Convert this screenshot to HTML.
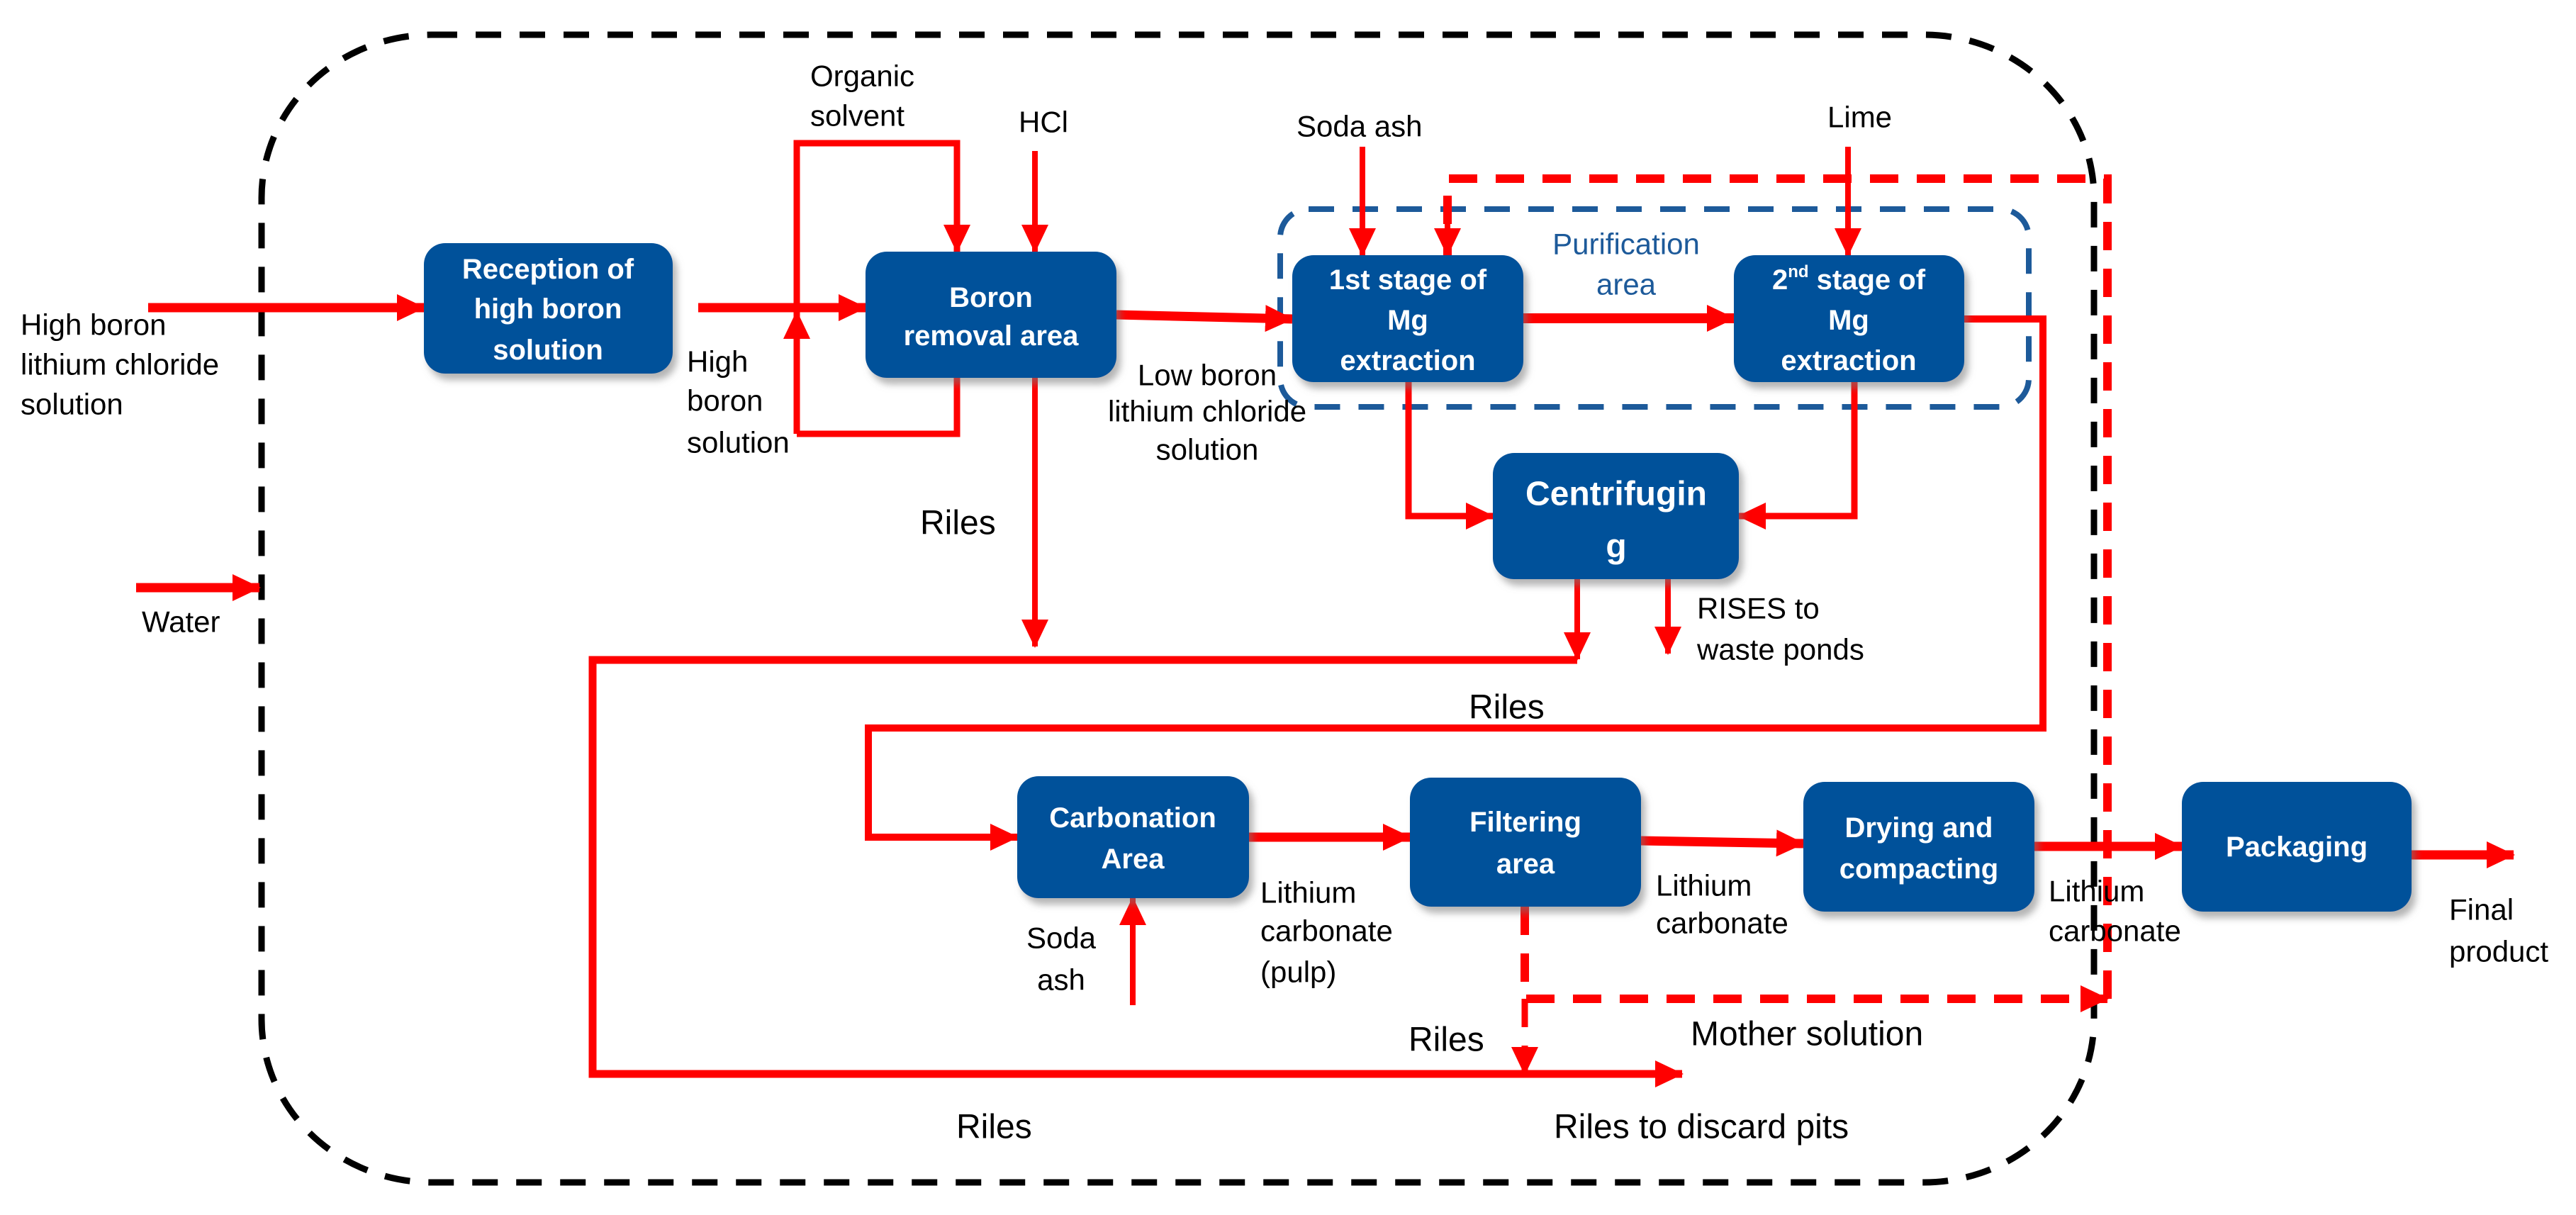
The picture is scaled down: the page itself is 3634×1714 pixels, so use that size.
<!DOCTYPE html>
<html><head><meta charset="utf-8"><style>
html,body{margin:0;padding:0;background:#fff;}
svg{display:block;}
text{font-family:"Liberation Sans",sans-serif;}
.lb{font-size:42px;fill:#000;}
.lg{font-size:48px;fill:#000;}
.bx{font-size:40px;font-weight:bold;fill:#fff;text-anchor:middle;}
</style></head><body>
<svg width="3634" height="1714" viewBox="0 0 3634 1714" xmlns="http://www.w3.org/2000/svg">
<defs>
<marker id="ah" markerUnits="userSpaceOnUse" markerWidth="40" markerHeight="38" refX="38" refY="19" orient="auto">
<path d="M0,0 L40,19 L0,38 z" fill="#ff0000"/>
</marker>
<filter id="sh" x="-10%" y="-10%" width="130%" height="130%">
<feDropShadow dx="6" dy="9" stdDeviation="5" flood-color="#777" flood-opacity="0.55"/>
</filter>
</defs>

<!-- black dashed boundary -->
<rect x="369" y="49" width="2585" height="1619" rx="240" ry="230" fill="none" stroke="#000" stroke-width="9" stroke-dasharray="36 26"/>

<!-- purification dashed -->
<rect x="1806" y="295" width="1056" height="279" rx="40" ry="40" fill="none" stroke="#1d5a9a" stroke-width="8" stroke-dasharray="36 26"/>
<text x="2294" y="344" font-size="42" fill="#1d5a9a" text-anchor="middle" dominant-baseline="central">Purification</text>
<text x="2294" y="401" font-size="42" fill="#1d5a9a" text-anchor="middle" dominant-baseline="central">area</text>

<g fill="none" stroke="#ff0000" stroke-linejoin="miter">
<!-- inputs -->
<line x1="209" y1="434" x2="598" y2="434" stroke-width="13" marker-end="url(#ah)"/>
<line x1="985" y1="434" x2="1221" y2="434" stroke-width="13" marker-end="url(#ah)"/>
<line x1="192" y1="829" x2="366" y2="829" stroke-width="13" marker-end="url(#ah)"/>
<!-- organic solvent loop -->
<polyline points="1124,612 1124,202 1350,202 1350,355" stroke-width="9" marker-end="url(#ah)"/>
<line x1="1124" y1="612" x2="1124" y2="440" stroke-width="9" marker-end="url(#ah)"/>
<polyline points="1124,612 1350,612 1350,533" stroke-width="9"/>
<!-- HCl -->
<line x1="1460" y1="213" x2="1460" y2="355" stroke-width="8" marker-end="url(#ah)"/>
<!-- boron -> 1st -->
<line x1="1575" y1="444" x2="1823" y2="450" stroke-width="13" marker-end="url(#ah)"/>
<!-- boron riles down -->
<line x1="1460" y1="533" x2="1460" y2="912" stroke-width="8" marker-end="url(#ah)"/>
<!-- soda ash, lime -->
<line x1="1922" y1="207" x2="1922" y2="360" stroke-width="8" marker-end="url(#ah)"/>
<line x1="2607" y1="207" x2="2607" y2="360" stroke-width="8" marker-end="url(#ah)"/>
<!-- 1st -> 2nd -->
<line x1="2149" y1="449" x2="2446" y2="449" stroke-width="14" marker-end="url(#ah)"/>
<!-- to centrifuging -->
<polyline points="1987,539 1987,728 2106,728" stroke-width="9" marker-end="url(#ah)"/>
<polyline points="2616,539 2616,728 2453,728" stroke-width="9" marker-end="url(#ah)"/>
<!-- 2nd right down to carbonation -->
<polyline points="2771,450 2882,450 2882,1027 1225,1027 1225,1181 1435,1181" stroke-width="10" marker-end="url(#ah)"/>
<!-- centrifuging outputs -->
<line x1="2225" y1="817" x2="2225" y2="930" stroke-width="8" marker-end="url(#ah)"/>
<line x1="2353" y1="817" x2="2353" y2="922" stroke-width="8" marker-end="url(#ah)"/>
<!-- riles main line -->
<polyline points="2225,931 836,931 836,1515 2373,1515" stroke-width="11" marker-end="url(#ah)"/>
<!-- carbonation -> filtering -->
<line x1="1762" y1="1181" x2="1989" y2="1181" stroke-width="13" marker-end="url(#ah)"/>
<line x1="1598" y1="1418" x2="1598" y2="1267" stroke-width="8" marker-end="url(#ah)"/>
<line x1="2315" y1="1186" x2="2544" y2="1190" stroke-width="13" marker-end="url(#ah)"/>
<line x1="2870" y1="1194" x2="3078" y2="1194" stroke-width="13" marker-end="url(#ah)"/>
<line x1="3402" y1="1206" x2="3546" y2="1206" stroke-width="13" marker-end="url(#ah)"/>
<!-- mother solution dashed -->
<polyline points="2151,1279 2151,1409 2973,1409" stroke-width="12" stroke-dasharray="40 26" marker-end="url(#ah)"/>
<polyline points="2973,1409 2973,252 2042,252 2042,360" stroke-width="12" stroke-dasharray="40 26"/>
<line x1="2042" y1="300" x2="2042" y2="360" stroke-width="8" marker-end="url(#ah)"/>
<line x1="2151" y1="1409" x2="2151" y2="1515" stroke-width="9" stroke-dasharray="40 26" marker-end="url(#ah)"/>
</g>

<!-- boxes -->
<g fill="#00519a" filter="url(#sh)">
<rect x="598" y="343" width="351" height="184" rx="30"/>
<rect x="1221" y="355" width="354" height="178" rx="30"/>
<rect x="1823" y="360" width="326" height="179" rx="30"/>
<rect x="2446" y="360" width="325" height="179" rx="30"/>
<rect x="2106" y="639" width="347" height="178" rx="30"/>
<rect x="1435" y="1095" width="327" height="172" rx="30"/>
<rect x="1989" y="1097" width="326" height="182" rx="30"/>
<rect x="2544" y="1103" width="326" height="183" rx="30"/>
<rect x="3078" y="1103" width="324" height="183" rx="30"/>
</g>

<g class="bx" dominant-baseline="central">
<text x="773" y="380" dominant-baseline="central">Reception of</text>
<text x="773" y="436" dominant-baseline="central">high boron</text>
<text x="773" y="494" dominant-baseline="central">solution</text>
<text x="1398" y="420" dominant-baseline="central">Boron</text>
<text x="1398" y="474" dominant-baseline="central">removal area</text>
<text x="1986" y="395" dominant-baseline="central">1st stage of</text>
<text x="1986" y="452" dominant-baseline="central">Mg</text>
<text x="1986" y="509" dominant-baseline="central">extraction</text>
<text x="2608" y="395" dominant-baseline="central">2<tspan font-size="24" dy="-12">nd</tspan><tspan dy="12"> stage of</tspan></text>
<text x="2608" y="452" dominant-baseline="central">Mg</text>
<text x="2608" y="509" dominant-baseline="central">extraction</text>
<text x="2280" y="697" font-size="48" dominant-baseline="central">Centrifugin</text>
<text x="2280" y="771" font-size="48" dominant-baseline="central">g</text>
<text x="1598" y="1154" dominant-baseline="central">Carbonation</text>
<text x="1598" y="1212" dominant-baseline="central">Area</text>
<text x="2152" y="1160" dominant-baseline="central">Filtering</text>
<text x="2152" y="1219" dominant-baseline="central">area</text>
<text x="2707" y="1168" dominant-baseline="central">Drying and</text>
<text x="2707" y="1226" dominant-baseline="central">compacting</text>
<text x="3240" y="1195" dominant-baseline="central">Packaging</text>
</g>

<g class="lb">
<text x="29" y="458" dominant-baseline="central">High boron</text>
<text x="29" y="514" dominant-baseline="central">lithium chloride</text>
<text x="29" y="570" dominant-baseline="central">solution</text>
<text x="200" y="877" dominant-baseline="central">Water</text>
<text x="1143" y="107" dominant-baseline="central">Organic</text>
<text x="1143" y="163" dominant-baseline="central">solvent</text>
<text x="1437" y="172" dominant-baseline="central">HCl</text>
<text x="969" y="510" dominant-baseline="central">High</text>
<text x="969" y="565" dominant-baseline="central">boron</text>
<text x="969" y="624" dominant-baseline="central">solution</text>
<text x="1703" y="529" text-anchor="middle" dominant-baseline="central">Low boron</text>
<text x="1703" y="580" text-anchor="middle" dominant-baseline="central">lithium chloride</text>
<text x="1703" y="634" text-anchor="middle" dominant-baseline="central">solution</text>
<text x="1829" y="178" dominant-baseline="central">Soda ash</text>
<text x="2578" y="165" dominant-baseline="central">Lime</text>
<text x="2394" y="858" dominant-baseline="central">RISES to</text>
<text x="2394" y="916" dominant-baseline="central">waste ponds</text>
<text x="1497" y="1323" text-anchor="middle" dominant-baseline="central">Soda</text>
<text x="1497" y="1382" text-anchor="middle" dominant-baseline="central">ash</text>
<text x="1778" y="1259" dominant-baseline="central">Lithium</text>
<text x="1778" y="1313" dominant-baseline="central">carbonate</text>
<text x="1778" y="1371" dominant-baseline="central">(pulp)</text>
<text x="2336" y="1249" dominant-baseline="central">Lithium</text>
<text x="2336" y="1302" dominant-baseline="central">carbonate</text>
<text x="2890" y="1257" dominant-baseline="central">Lithium</text>
<text x="2890" y="1313" dominant-baseline="central">carbonate</text>
<text x="3455" y="1283" dominant-baseline="central">Final</text>
<text x="3455" y="1342" dominant-baseline="central">product</text>
</g>
<g class="lg">
<text x="1298" y="738" dominant-baseline="central">Riles</text>
<text x="2072" y="998" dominant-baseline="central">Riles</text>
<text x="1987" y="1467" dominant-baseline="central">Riles</text>
<text x="2385" y="1459" dominant-baseline="central">Mother solution</text>
<text x="1349" y="1590" dominant-baseline="central">Riles</text>
<text x="2192" y="1590" dominant-baseline="central">Riles to discard pits</text>
</g>
</svg>
</body></html>
